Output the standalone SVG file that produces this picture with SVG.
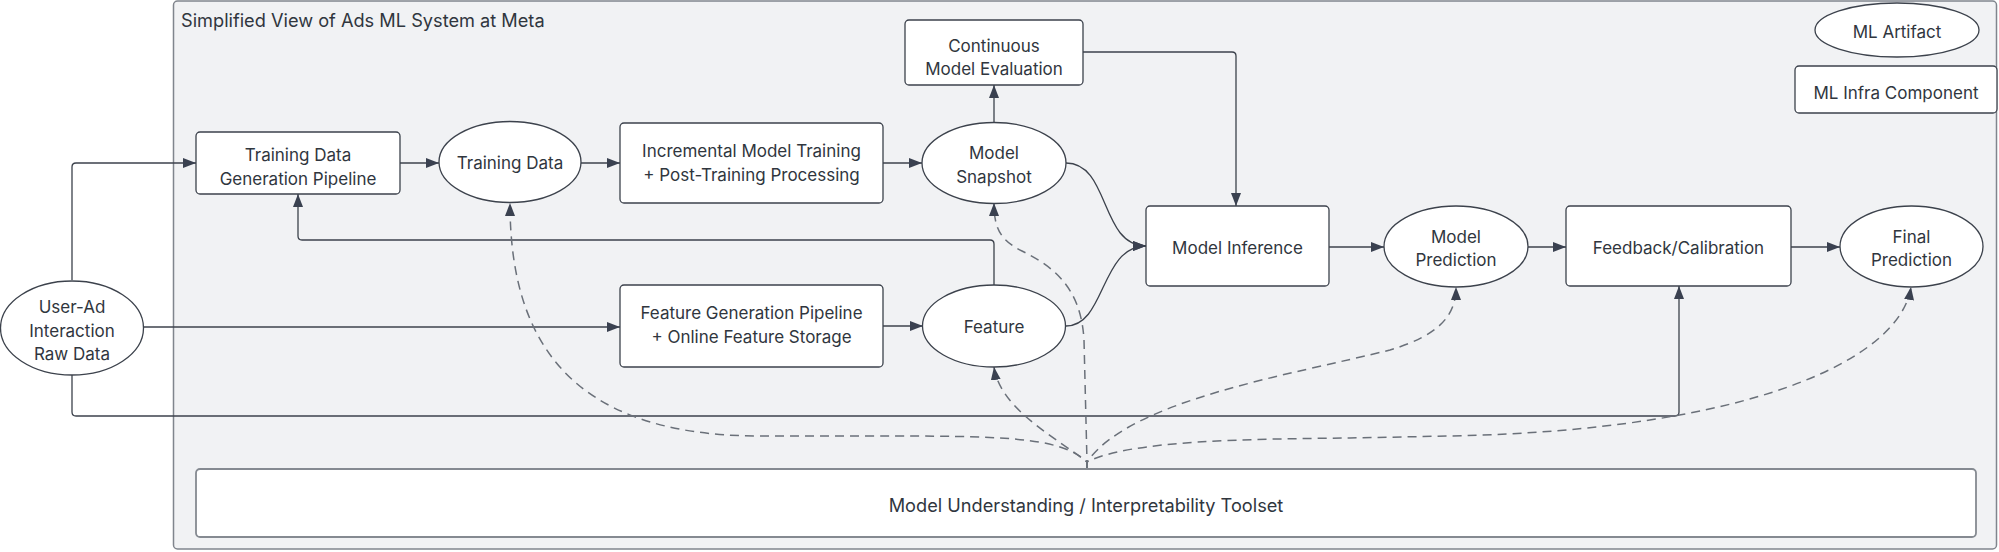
<svg xmlns="http://www.w3.org/2000/svg" width="1999" height="552" viewBox="0 0 1999 552">
<style>
.node{fill:#ffffff;stroke:#3c424c;stroke-width:1.3}
.t{font-family:Inter,"Noto Sans","Liberation Sans",sans-serif;font-size:17px;fill:#30363e;text-anchor:middle}
.c{fill:none;stroke:#3c424c;stroke-width:1.3}
.d{fill:none;stroke:#6a7079;stroke-width:1.5;stroke-dasharray:9 6}
</style>
<defs>
<marker id="ah" markerUnits="userSpaceOnUse" markerWidth="14" markerHeight="11" refX="13" refY="5" orient="auto">
<path d="M0,0 L13,5 L0,10 z" fill="#3a4150"/>
</marker>
</defs>
<g id="container">
<rect x="173.5" y="1" width="1823" height="548" rx="4" fill="#f1f2f4" stroke="#80858d" stroke-width="1.5"/>
<text x="181" y="27" font-family="Inter,'Noto Sans','Liberation Sans',sans-serif" font-size="18.2" fill="#30363e">Simplified View of Ads ML System at Meta</text>
</g>
<g id="connectors">
<path class="c" d="M72,280 V167 Q72,163 76,163 H196" marker-end="url(#ah)"/>
<path class="c" d="M400,163 H439" marker-end="url(#ah)"/>
<path class="c" d="M581,163 H620" marker-end="url(#ah)"/>
<path class="c" d="M883,163 H922" marker-end="url(#ah)"/>
<path class="c" d="M994,122 V85" marker-end="url(#ah)"/>
<path class="c" d="M1083,52 H1232 Q1236,52 1236,56 V206" marker-end="url(#ah)"/>
<path class="c" d="M1066,163 C1110,163 1100,246 1146,246" marker-end="url(#ah)"/>
<path class="c" d="M1066,326 C1106,326 1100,246 1146,246" marker-end="url(#ah)"/>
<path class="c" d="M1329,247 H1384" marker-end="url(#ah)"/>
<path class="c" d="M1528,247 H1566" marker-end="url(#ah)"/>
<path class="c" d="M1791,247 H1840" marker-end="url(#ah)"/>
<path class="c" d="M144,327 H620" marker-end="url(#ah)"/>
<path class="c" d="M883,326 H923" marker-end="url(#ah)"/>
<path class="c" d="M994,285 V244 Q994,240 990,240 H302 Q298,240 298,236 V194" marker-end="url(#ah)"/>
<path class="c" d="M72,375 V412 Q72,416 76,416 H1675 Q1679,416 1679,412 V286" marker-end="url(#ah)"/>
<path class="d" d="M1087,469 L1087,462 C1060,436 1000,436 870,436 L760,436 C560,436 510,330 510,203" marker-end="url(#ah)"/>
<path class="d" d="M1087,469 L1087,462 L1084,340 C1081,285 1050,265 1022,251 C1000,240 994,228 994,203" marker-end="url(#ah)"/>
<path class="d" d="M1087,469 L1087,462 C1060,440 1000,410 994,367" marker-end="url(#ah)"/>
<path class="d" d="M1087,469 L1087,462 C1130,400 1290,375 1390,350 C1440,335 1456,315 1456,287" marker-end="url(#ah)"/>
<path class="d" d="M1087,469 L1087,462 C1130,440 1250,439 1350,438 L1450,436 C1750,430 1900,360 1911,287" marker-end="url(#ah)"/>
</g>
<g id="n-user-ad">
<ellipse class="node" cx="72" cy="328" rx="71.5" ry="47"/>
<text class="t" x="72" y="313">User-Ad</text>
<text class="t" x="72" y="337">Interaction</text>
<text class="t" x="72" y="360">Raw Data</text>
</g>
<g id="n-tdgp">
<rect class="node" x="196" y="132" width="204" height="62" rx="4"/>
<text class="t" x="298" y="161">Training Data</text>
<text class="t" x="298" y="185">Generation Pipeline</text>
</g>
<g id="n-training-data">
<ellipse class="node" cx="510" cy="162" rx="71" ry="40.5"/>
<text class="t" x="510" y="169">Training Data</text>
</g>
<g id="n-imt">
<rect class="node" x="620" y="123" width="263" height="80" rx="4"/>
<text class="t" x="751.5" y="157">Incremental Model Training</text>
<text class="t" x="751.5" y="181">+ Post-Training Processing</text>
</g>
<g id="n-snapshot">
<ellipse class="node" cx="994" cy="163" rx="72" ry="40.5"/>
<text class="t" x="994" y="159">Model</text>
<text class="t" x="994" y="183">Snapshot</text>
</g>
<g id="n-cme">
<rect class="node" x="905" y="20" width="178" height="65" rx="4"/>
<text class="t" x="994" y="52">Continuous</text>
<text class="t" x="994" y="75">Model Evaluation</text>
</g>
<g id="n-fgp">
<rect class="node" x="620" y="285" width="263" height="82" rx="4"/>
<text class="t" x="751.5" y="319">Feature Generation Pipeline</text>
<text class="t" x="751.5" y="343">+ Online Feature Storage</text>
</g>
<g id="n-feature">
<ellipse class="node" cx="994" cy="326" rx="71.5" ry="41"/>
<text class="t" x="994" y="333">Feature</text>
</g>
<g id="n-inference">
<rect class="node" x="1146" y="206" width="183" height="80" rx="4"/>
<text class="t" x="1237.5" y="254">Model Inference</text>
</g>
<g id="n-prediction">
<ellipse class="node" cx="1456" cy="246.5" rx="72" ry="40.5"/>
<text class="t" x="1456" y="243">Model</text>
<text class="t" x="1456" y="266">Prediction</text>
</g>
<g id="n-feedback">
<rect class="node" x="1566" y="206" width="225" height="80" rx="4"/>
<text class="t" x="1678.5" y="254">Feedback/Calibration</text>
</g>
<g id="n-final">
<ellipse class="node" cx="1911.5" cy="246.5" rx="71.5" ry="40.5"/>
<text class="t" x="1911.5" y="243">Final</text>
<text class="t" x="1911.5" y="266">Prediction</text>
</g>
<g id="n-legend-artifact">
<ellipse class="node" cx="1897" cy="30" rx="82" ry="27"/>
<text class="t" x="1897" y="38">ML Artifact</text>
</g>
<g id="n-legend-infra">
<rect class="node" x="1795" y="66" width="202" height="47" rx="4"/>
<text class="t" x="1896" y="99">ML Infra Component</text>
</g>
<g id="n-muit">
<rect x="196" y="469" width="1780" height="68" rx="4" fill="#ffffff" stroke="#858a91" stroke-width="1.8"/>
<text class="t" x="1086" y="512" style="font-size:18.2px">Model Understanding / Interpretability Toolset</text>
</g>
</svg>
